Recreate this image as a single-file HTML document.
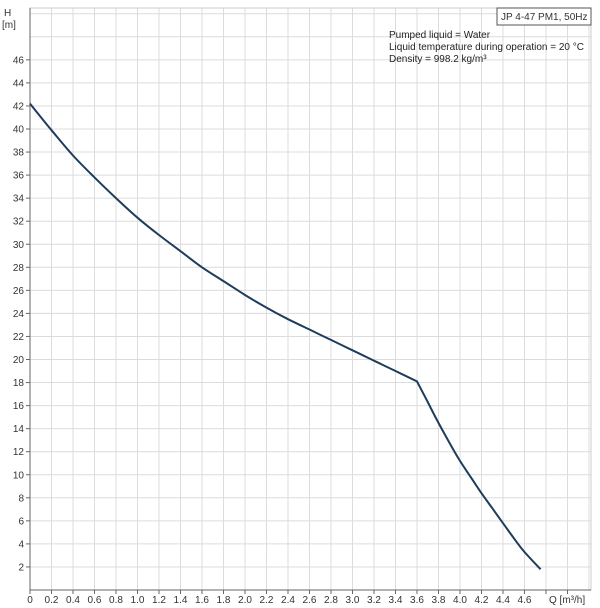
<!DOCTYPE html>
<html><head><meta charset="utf-8"><style>
body{margin:0;background:#fff;}
svg{display:block;font-family:"Liberation Sans",sans-serif;}
</style></head><body>
<svg id="chart" width="600" height="608" viewBox="0 0 600 608">
<g id="grid"></g>
<g id="axes"></g>
<g id="series"></g>
<text x="4" y="16" font-size="10" fill="#333">H</text>
<text x="2" y="28" font-size="10" fill="#333">[m]</text>
<text x="549" y="603" font-size="10" fill="#333">Q [m³/h]</text>
<rect x="497" y="8" width="94" height="17" fill="#fff" stroke="#555" stroke-width="1"/>
<text x="501" y="20" font-size="10" fill="#333">JP 4-47 PM1, 50Hz</text>
<g font-size="10" fill="#222">
<text x="389" y="38">Pumped liquid = Water</text>
<text x="389" y="50">Liquid temperature during operation = 20 °C</text>
<text x="389" y="62">Density = 998.2 kg/m³</text>
</g>
</svg>
<script>
const qValues=[0,0.2,0.4,0.6,0.8,1.0,1.2,1.4,1.6,1.8,2.0,2.2,2.4,2.6,2.8,3.0,3.2,3.4,3.6,3.7,3.8,3.9,4.0,4.1,4.2,4.3,4.4,4.5,4.6,4.75];
const hValues=[42.2,39.9,37.7,35.8,34.0,32.3,30.8,29.4,28.0,26.8,25.6,24.5,23.5,22.6,21.7,20.8,19.9,19.0,18.1,16.3,14.5,12.8,11.2,9.8,8.4,7.1,5.8,4.5,3.3,1.8];
const kneeQ=3.6;
const xTicks=[0,0.2,0.4,0.6,0.8,1.0,1.2,1.4,1.6,1.8,2.0,2.2,2.4,2.6,2.8,3.0,3.2,3.4,3.6,3.8,4.0,4.2,4.4,4.6];
const yTicks=[2,4,6,8,10,12,14,16,18,20,22,24,26,28,30,32,34,36,38,40,42,44,46];
const NS="http://www.w3.org/2000/svg";
const X0=30,XS=107.5,Y0=590,YS=11.525,TOP=8,RIGHT=591;
const sx=q=>X0+q*XS, sy=h=>Y0-h*YS;
function mk(t,a,p){const e=document.createElementNS(NS,t);for(const k in a)e.setAttribute(k,a[k]);p.appendChild(e);return e;}
const grid=document.getElementById('grid'),axes=document.getElementById('axes'),series=document.getElementById('series');
for(let i=1;i<=26;i++){const x=X0+i*XS*0.2;if(x>RIGHT)break;
 const l=mk('line',{x1:x,x2:x,y1:TOP,y2:Y0,stroke:'#dcdcdc','stroke-width':1},grid);
 }
for(let i=1;i<=25;i++){const y=Y0-i*2*YS;if(y<TOP)break;
 const l=mk('line',{x1:X0,x2:RIGHT,y1:y,y2:y,stroke:'#dcdcdc','stroke-width':1},grid);
 }
const fr=mk('rect',{x:X0,y:TOP,width:RIGHT-X0,height:Y0-TOP,fill:'none',stroke:'#ccc'},grid);

const ya=mk('line',{x1:X0,x2:X0,y1:TOP,y2:Y0,stroke:'#666'},axes);

const xa=mk('line',{x1:X0,x2:RIGHT,y1:Y0,y2:Y0,stroke:'#666'},axes);

yTicks.forEach(v=>{const y=sy(v);
 mk('line',{x1:X0-4,x2:X0,y1:y,y2:y,stroke:'#666'},axes);
 const t=mk('text',{x:X0-6,y:y+3.5,'font-size':10,fill:'#333','text-anchor':'end'},axes);t.textContent=v;
 });
xTicks.forEach(v=>{const x=sx(v);
 mk('line',{x1:x,x2:x,y1:Y0,y2:Y0+4,stroke:'#666'},axes);
 const t=mk('text',{x:x,y:603,'font-size':10,fill:'#333','text-anchor':'middle'},axes);t.textContent=v===0?'0':v.toFixed(1);
 });
[4.8,5.0].forEach(v=>mk('line',{x1:sx(v),x2:sx(v),y1:Y0,y2:Y0+4,stroke:'#666'},axes));
// Catmull-Rom smoothing, split at the knee
function smooth(pts){let d='M'+pts[0][0].toFixed(1)+','+pts[0][1].toFixed(1);
 for(let i=0;i<pts.length-1;i++){const p0=pts[Math.max(0,i-1)],p1=pts[i],p2=pts[i+1],p3=pts[Math.min(pts.length-1,i+2)];
  const c1=[p1[0]+(p2[0]-p0[0])/6,p1[1]+(p2[1]-p0[1])/6],c2=[p2[0]-(p3[0]-p1[0])/6,p2[1]-(p3[1]-p1[1])/6];
  d+=' C'+c1[0].toFixed(1)+','+c1[1].toFixed(1)+' '+c2[0].toFixed(1)+','+c2[1].toFixed(1)+' '+p2[0].toFixed(1)+','+p2[1].toFixed(1);}
 return d;}
const all=qValues.map((q,i)=>[sx(q),sy(hValues[i])]);
const k=qValues.findIndex(q=>q>=kneeQ);
const d=smooth(all.slice(0,k+1))+' '+smooth(all.slice(k)).replace(/^M/,'L');
const p=mk('path',{d:d,fill:'none',stroke:'#1e3d5c','stroke-width':2,'stroke-linejoin':'round'},series);

</script>
</body></html>
